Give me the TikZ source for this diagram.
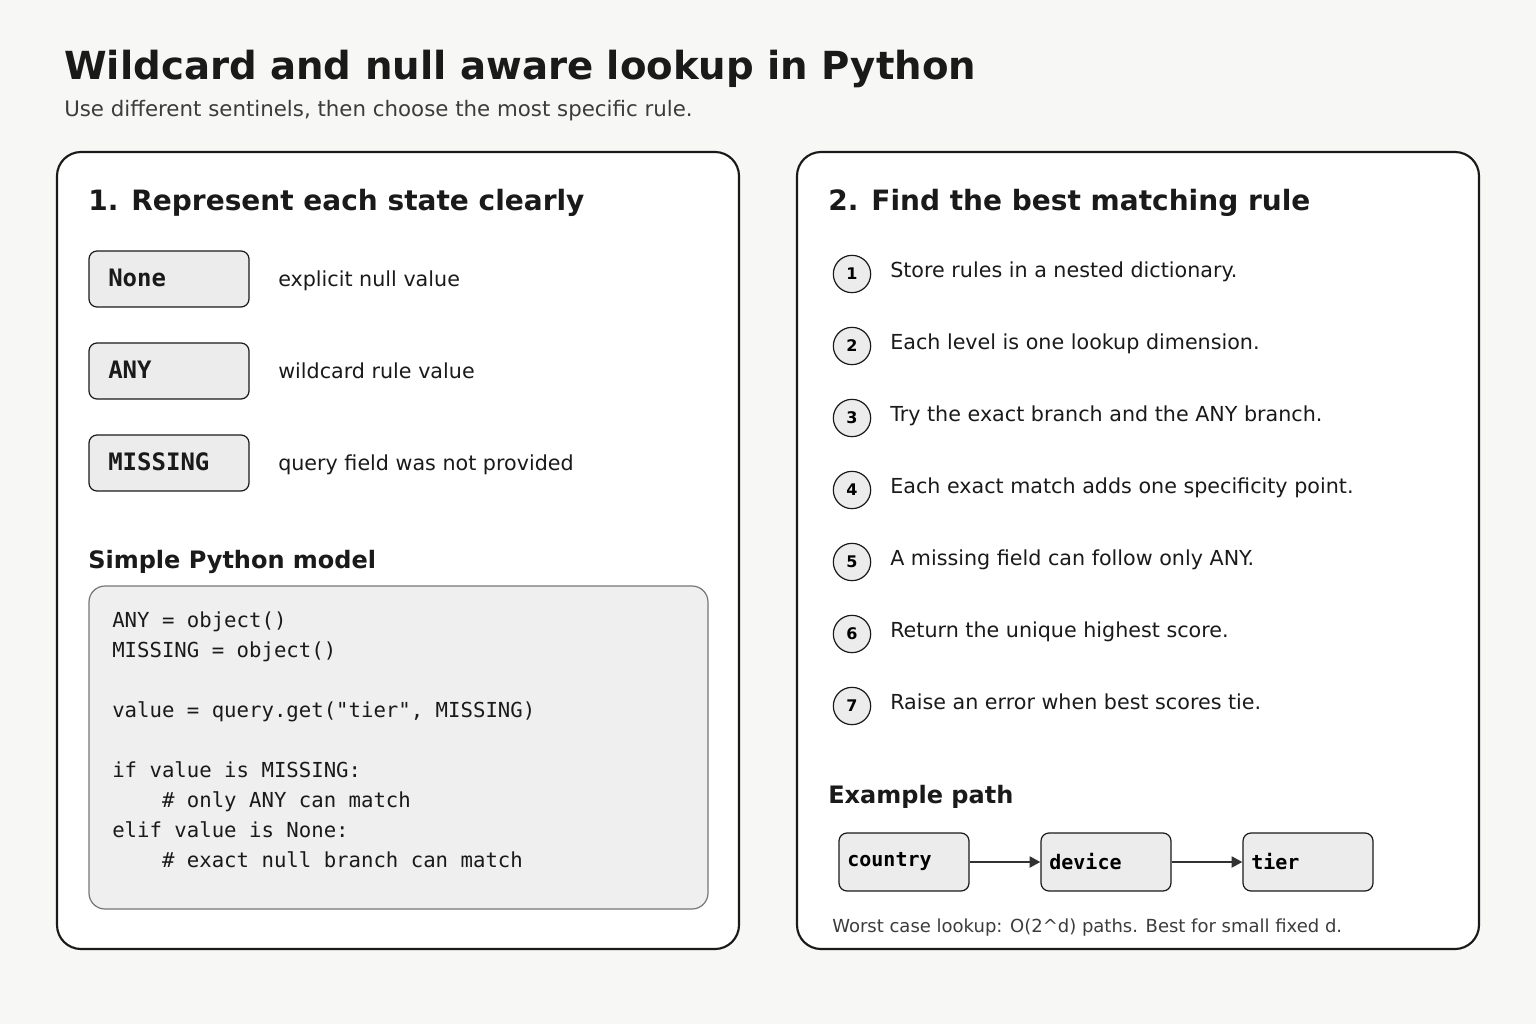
\documentclass[tikz,border=0pt]{standalone}
\usepackage{fontspec}
\setmainfont{DejaVu Sans}
\setmonofont{DejaVu Sans Mono}
\usetikzlibrary{positioning,arrows.meta}
\definecolor{bgcol}{HTML}{F7F7F5}
\definecolor{ink}{HTML}{1A1A1A}
\definecolor{boxfill}{HTML}{ECECEC}
\definecolor{codefill}{HTML}{EFEFEF}
\tikzset{
  panel/.style={draw=ink, line width=1.6pt, fill=white, rounded corners=18pt},
  sentinel/.style={draw=ink, line width=0.9pt, fill=boxfill, rounded corners=6pt},
  txt/.style={anchor=base west, inner sep=0pt, text=ink},
  stepnum/.style={circle, draw=ink, line width=0.9pt, fill=boxfill, minimum size=28pt, inner sep=0pt, font=\bfseries\fontsize{12}{14}\selectfont},
  key/.style={draw=ink, line width=0.9pt, fill=boxfill, rounded corners=6pt, minimum width=97.5pt, minimum height=43.5pt, text width=85pt, font=\ttfamily\bfseries\fontsize{15}{18}\selectfont},
  flow/.style={-{Triangle[length=8pt,width=8pt]}, line width=2.2pt, draw=ink!90}
}
\begin{document}
\begin{tikzpicture}[x=0.75pt,y=-0.75pt]
\fill[bgcol] (0,0) rectangle (1536,1024);
\useasboundingbox (0,0) rectangle (1536,1024);
% title
\node[txt, font=\bfseries\fontsize{29}{34}\selectfont] (title) at (64,80) {Wildcard and null aware lookup in Python};
\node[txt, font=\fontsize{16}{19}\selectfont, text=ink!85] (sub) at (64,117) {Use different sentinels, then choose the most specific rule.};
% panels
\draw[panel] (57,152) rectangle (739,949);
\draw[panel] (797,152) rectangle (1479,949);
% left panel
\node[txt, font=\bfseries\fontsize{21}{25}\selectfont] (lhead) at (88,210) {1. Represent each state clearly};
\foreach \y/\s/\d [count=\i] in {279/None/explicit null value, 371/ANY/wildcard rule value, 463/MISSING/query field was not provided}{
  \draw[sentinel] (89,\y-28) rectangle (249,\y+28);
  \node[txt, font=\ttfamily\bfseries\fontsize{18}{21}\selectfont] (s\i) at (108,\y+7) {\s};
  \node[txt, font=\fontsize{15.5}{19}\selectfont] (d\i) at (278,\y+7) {\d};
}
\node[txt, font=\bfseries\fontsize{18}{22}\selectfont] (model) at (88,568) {Simple Python model};
\draw[draw=ink!60, line width=0.9pt, fill=codefill, rounded corners=12pt] (89,586) rectangle (708,909);
\foreach \t [count=\i] in {ANY = object(), MISSING = object(), {}, {value = query.get("tier", MISSING)}, {}, if value is MISSING:, {\ \ \ \ \# only ANY can match}, elif value is None:, {\ \ \ \ \# exact null branch can match}}{
  \node[txt, font=\ttfamily\fontsize{15.5}{18}\selectfont] (c\i) at (112,597+30*\i) {\strut\t};
}
% right panel
\node[txt, font=\bfseries\fontsize{21}{25}\selectfont] (rhead) at (828,210) {2. Find the best matching rule};
\foreach \t [count=\i] in {Store rules in a nested dictionary., Each level is one lookup dimension., Try the exact branch and the ANY branch., Each exact match adds one specificity point., A missing field can follow only ANY., Return the unique highest score., Raise an error when best scores tie.}{
  \node[stepnum] (n\i) at (852,202+72*\i) {\i};
  \node[txt, font=\fontsize{15.5}{19}\selectfont] (t\i) at (890,205+72*\i) {\t};
}
\node[txt, font=\bfseries\fontsize{18}{22}\selectfont] (ex) at (828,803) {Example path};
\node[key] (country) at (904,862) {country};
\node[key] (device) at (1106,862) {device};
\node[key] (tier) at (1308,862) {tier};
\draw[flow] (country) -- (device);
\draw[flow] (device) -- (tier);
\node[txt, font=\fontsize{13.5}{16}\selectfont, text=ink!85] (note) at (832,932) {Worst case lookup: O(2\^{}d) paths. Best for small fixed d.};
\end{tikzpicture}
\end{document}
